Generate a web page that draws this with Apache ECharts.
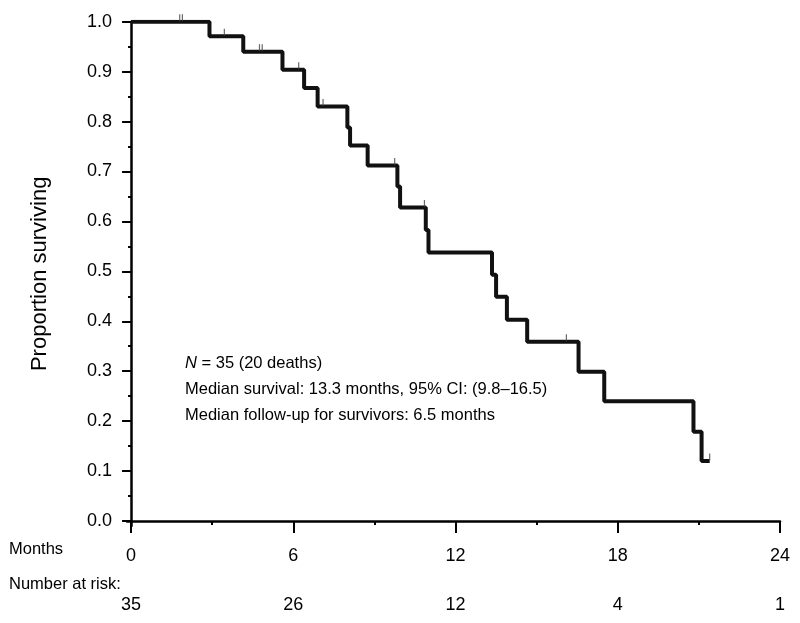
<!DOCTYPE html>
<html>
<head>
<meta charset="utf-8">
<script src="https://cdn.jsdelivr.net/npm/echarts@6/dist/echarts.min.js"></script>
<style>
html,body{margin:0;padding:0;background:#fff;}
#main{width:800px;height:623px;}
</style>
</head>
<body>
<div id="main"></div>
<script>
// Kaplan-Meier step points: time (months) and survival after the event
var times = [0, 2.9, 4.15, 5.6, 6.4, 6.9, 8.0, 8.1, 8.75, 9.85, 9.95, 10.9, 11.0, 13.35, 13.5, 13.9, 14.65, 16.55, 17.5, 20.8, 21.1, 21.4];
var survival = [1.0, 0.971, 0.940, 0.904, 0.867, 0.830, 0.788, 0.752, 0.712, 0.670, 0.628, 0.583, 0.538, 0.493, 0.449, 0.403, 0.359, 0.299, 0.240, 0.179, 0.120, 0.120];
// Censoring marks
var censorTimes = [1.8, 1.9, 3.45, 4.75, 4.85, 6.2, 7.1, 9.75, 10.85, 16.1, 21.4];
var censorSurv = [1.0, 1.0, 0.971, 0.940, 0.940, 0.904, 0.830, 0.712, 0.628, 0.359, 0.120];
// Axis ticks
var xTicks = [0, 6, 12, 18, 24];
var xMinorTicks = [3, 9, 15, 21];
var yTicks = [0, 0.1, 0.2, 0.3, 0.4, 0.5, 0.6, 0.7, 0.8, 0.9, 1.0];
var yMinorTicks = [0.05, 0.15, 0.25, 0.35, 0.45, 0.55, 0.65, 0.75, 0.85, 0.95];
var atRisk = [35, 26, 12, 4, 1];
var annotations = ['{i|N} = 35 (20 deaths)', 'Median survival: 13.3 months, 95% CI: (9.8\u201316.5)', 'Median follow-up for survivors: 6.5 months'];

var FONT = 'Liberation Sans, Arial, Helvetica, sans-serif';
var chart = echarts.init(document.getElementById('main'), null, {renderer: 'canvas'});

var lineData = times.map(function (t, i) { return [t, survival[i]]; });
var censorData = censorTimes.map(function (t, i) { return [t, censorSurv[i]]; });

var xBase = { type: 'value', min: -0.15, max: 24, gridIndex: 0, splitLine: {show: false} };
var yBase = { type: 'value', min: -0.01, max: 1.0, gridIndex: 0, splitLine: {show: false} };

var option = {
  backgroundColor: '#fff',
  animation: false,
  grid: { left: 127, right: 20, top: 21.7, bottom: 97, containLabel: false },
  xAxis: [
    Object.assign({}, xBase, {
      position: 'bottom',
      axisLine: { show: true, lineStyle: { color: '#000', width: 2.5 } },
      axisTick: { show: true, customValues: xTicks, length: 12, lineStyle: { color: '#000', width: 2 } },
      axisLabel: { show: true, customValues: xTicks, margin: 21, color: '#000', fontSize: 18, fontFamily: FONT }
    }),
    Object.assign({}, xBase, {
      position: 'bottom',
      axisLine: { show: false },
      axisTick: { show: true, customValues: xMinorTicks, length: 4, lineStyle: { color: '#000', width: 2 } },
      axisLabel: { show: false }
    }),
    Object.assign({}, xBase, {
      position: 'bottom',
      axisLine: { show: false },
      axisTick: { show: false },
      axisLabel: {
        show: true, customValues: xTicks, margin: 70, color: '#000', fontSize: 18, fontFamily: FONT,
        formatter: function (v) { var i = xTicks.indexOf(v); return i >= 0 ? String(atRisk[i]) : ''; }
      }
    })
  ],
  yAxis: [
    Object.assign({}, yBase, {
      position: 'left',
      name: 'Proportion surviving',
      nameLocation: 'middle',
      nameGap: 76,
      nameRotate: 90,
      nameTextStyle: { color: '#000', fontSize: 22, fontFamily: FONT },
      axisLine: { show: true, lineStyle: { color: '#000', width: 2.5 } },
      axisTick: { show: true, customValues: yTicks, length: 9, lineStyle: { color: '#000', width: 2 } },
      axisLabel: {
        show: true, customValues: yTicks, margin: 15, color: '#000', fontSize: 18, fontFamily: FONT,
        formatter: function (v) { return v.toFixed(1); }
      }
    }),
    Object.assign({}, yBase, {
      position: 'left',
      axisLine: { show: false },
      axisTick: { show: true, customValues: yMinorTicks, length: 3, lineStyle: { color: '#000', width: 2 } },
      axisLabel: { show: false }
    })
  ],
  series: [
    {
      type: 'line',
      xAxisIndex: 0, yAxisIndex: 0,
      step: 'end',
      data: lineData,
      showSymbol: false,
      symbol: 'none',
      lineStyle: { color: '#111', width: 4 },
      silent: true,
      z: 3
    },
    {
      type: 'scatter',
      xAxisIndex: 0, yAxisIndex: 0,
      data: censorData,
      symbol: 'rect',
      symbolSize: [1.2, 7],
      symbolOffset: [0, -4],
      itemStyle: { color: '#444' },
      silent: true,
      z: 4
    }
  ],
  graphic: [
    { type: 'text', left: 9, top: 541, style: { text: 'Months', fill: '#000', font: '16.5px ' + FONT } },
    { type: 'text', left: 9, top: 576, style: { text: 'Number at risk:', fill: '#000', font: '16.5px ' + FONT } },
    { type: 'text', left: 185, top: 355, style: { text: annotations[0], fill: '#000', font: '16.5px ' + FONT,
        rich: { i: { fontStyle: 'italic', fontSize: 16.5, fontFamily: FONT, fill: '#000' } } } },
    { type: 'text', left: 185, top: 381, style: { text: annotations[1], fill: '#000', font: '16.5px ' + FONT } },
    { type: 'text', left: 185, top: 407, style: { text: annotations[2], fill: '#000', font: '16.5px ' + FONT } }
  ]
};
chart.setOption(option);
</script>
</body>
</html>
